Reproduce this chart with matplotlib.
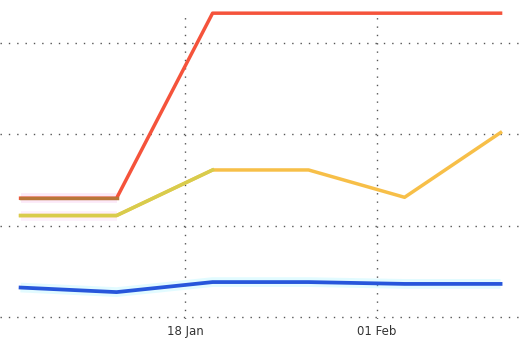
import numpy as np
import pandas as pd
import matplotlib
matplotlib.use("Agg")
import matplotlib.pyplot as plt
import matplotlib.dates as mdates

# weekly points
dates = pd.to_datetime(["2020-01-06", "2020-01-13", "2020-01-20",
                        "2020-01-27", "2020-02-03", "2020-02-10"])
red_vals = [13.0, 13.0, 33.3, 33.3, 33.3, 33.3]
yellow_vals = [11.1, 11.1, 16.1, 16.1, 13.1, 20.2]
blue_vals = [3.2, 2.7, 3.8, 3.8, 3.6, 3.6]

fig = plt.figure(figsize=(5.2, 3.44), dpi=100)
ax = fig.add_axes([0, 25 / 344, 1, 304 / 344])

# soft halo behind the lines
ax.plot(dates[:2], red_vals[:2], color="#f6b8e8", lw=7, alpha=0.3, solid_capstyle="butt")
ax.plot(dates[:2], yellow_vals[:2], color="#f6b8e8", lw=7, alpha=0.2, solid_capstyle="butt")
ax.plot(dates, blue_vals, color="#9ff4ff", lw=7, alpha=0.3, solid_capstyle="butt")

ax.plot(dates, red_vals, color="#f5533b", lw=2.5, clip_on=False, zorder=3)
ax.plot(dates[:2], red_vals[:2], color="#b8763a", lw=2.5, zorder=4)
ax.plot(dates, yellow_vals, color="#f7bf48", lw=2.5, zorder=3)
ax.plot(dates[:3], yellow_vals[:3], color="#d8cc4c", lw=2.5, zorder=4)
ax.plot(dates, blue_vals, color="#2756db", lw=2.7, zorder=3)

ax.set_xlim(pd.Timestamp("2020-01-04 12:00"), pd.Timestamp("2020-02-11 10:00"))
ax.set_ylim(-0.25, 33.1)
ax.set_yticks([0, 10, 20, 30])
ax.set_xticks(pd.to_datetime(["2020-01-18", "2020-02-01"]))
ax.xaxis.set_major_formatter(mdates.DateFormatter("%d %b"))
ax.tick_params(axis="both", length=0, labelsize=8.5, colors="#333333", pad=4)
ax.tick_params(axis="y", labelleft=False)
ax.grid(True, linestyle=(0, (1, 5)), color="#555555", linewidth=1)
ax.set_axisbelow(True)
for s in ax.spines.values():
    s.set_visible(False)

fig.savefig("out.png", dpi=100)
